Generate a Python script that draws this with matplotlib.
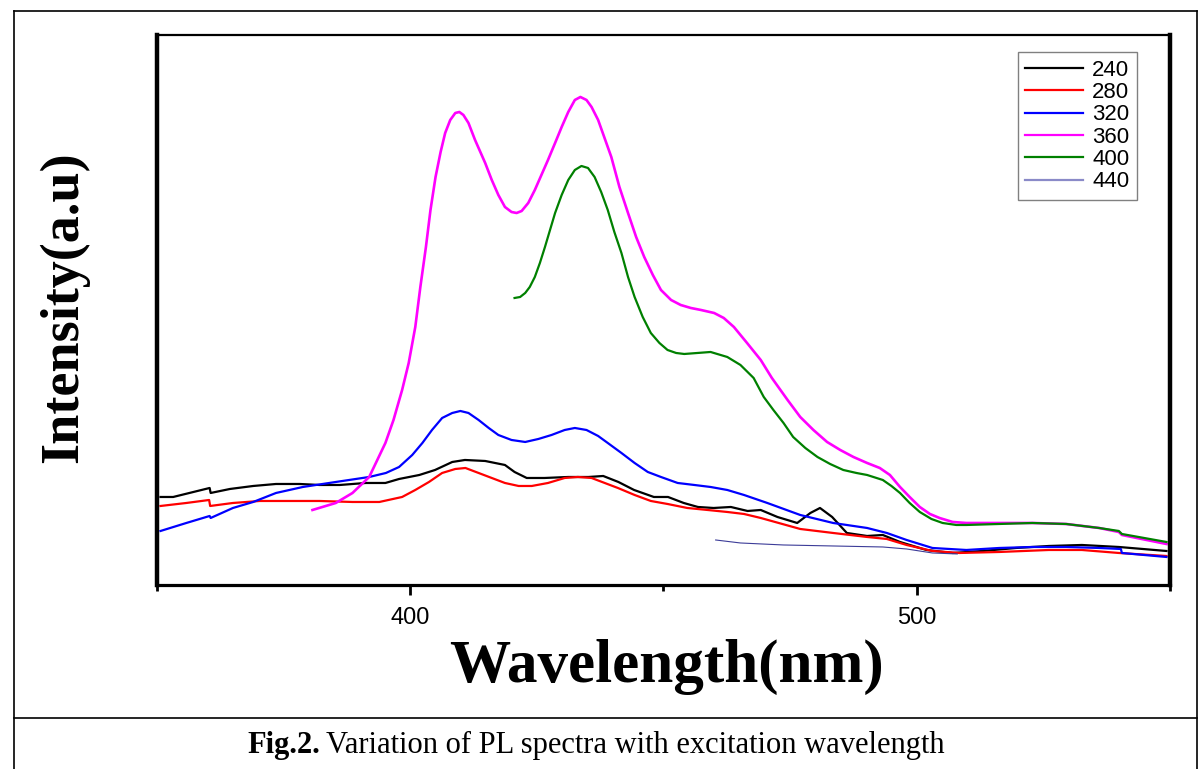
import matplotlib

matplotlib.use("Agg")
import matplotlib.pyplot as plt
from matplotlib.lines import Line2D

# PL emission spectra (a.u.) for each excitation wavelength (nm)
wl_240 = [350.7, 353.2, 357.2, 360.4, 360.6, 364.4, 369.0, 373.5, 378.2, 382.1, 386.1, 391.2,
          395.1, 397.8, 401.8, 404.9, 408.3, 410.8, 414.8, 418.7, 420.6, 423.0, 426.5, 431.2,
          435.2, 438.1, 441.1, 444.2, 448.1, 450.9, 454.0, 456.8, 459.9, 463.3, 466.6, 469.2,
          472.5, 476.4, 479.0, 480.9, 483.3, 486.2, 490.2, 493.3, 496.7, 501.9, 507.1, 513.0,
          519.6, 526.1, 532.6, 539.9, 549.3]
int_240 = [88, 88, 93, 97, 92, 96, 99, 101, 101, 100, 100, 102,
           102, 106, 110, 115, 123, 125, 124, 120, 113, 107, 107, 108,
           108, 109, 103, 95, 88, 88, 82, 78, 77, 78, 74, 75,
           68, 62, 72, 77, 68, 52, 49, 50, 43, 35, 32, 34,
           37, 39, 40, 38, 34]

wl_280 = [350.7, 355.8, 360.3, 360.5, 365.0, 370.3, 375.4, 382.1, 388.6, 393.9, 398.4, 401.0,
          403.7, 406.3, 408.9, 410.9, 413.5, 416.1, 418.7, 421.4, 424.0, 427.2, 430.5, 433.1,
          435.8, 438.4, 441.0, 444.3, 447.5, 450.8, 454.7, 458.7, 462.6, 465.9, 469.2, 477.0,
          483.5, 490.2, 494.1, 498.0, 503.1, 508.4, 516.3, 526.1, 532.6, 539.9, 549.3]
int_280 = [79, 82, 85, 79, 82, 84, 84, 84, 83, 83, 88, 95,
           103, 112, 116, 117, 112, 107, 102, 99, 99, 102, 107, 108,
           107, 102, 97, 90, 84, 81, 77, 75, 73, 71, 67, 56,
           52, 48, 46, 40, 34, 32, 33, 35, 35, 32, 29]

wl_320 = [350.7, 355.8, 360.4, 360.6, 365.0, 369.0, 373.5, 378.8, 385.3, 391.9, 395.2, 397.8,
          400.4, 402.4, 404.3, 406.3, 408.3, 409.9, 411.5, 413.5, 415.5, 417.4, 420.0, 422.7,
          425.3, 427.9, 430.5, 432.5, 434.8, 437.1, 439.0, 441.7, 444.3, 446.9, 449.5, 452.8,
          456.1, 459.3, 462.6, 465.9, 470.5, 477.0, 483.5, 490.2, 494.1, 498.0, 503.1, 509.8,
          516.3, 522.8, 529.5, 536.0, 540.3, 540.5, 549.3]
int_320 = [54, 62, 69, 67, 77, 83, 92, 98, 103, 108, 112, 118,
           130, 142, 155, 167, 172, 174, 172, 165, 157, 150, 145, 143,
           146, 150, 155, 157, 155, 149, 142, 132, 122, 113, 108, 102,
           100, 98, 95, 90, 82, 70, 62, 57, 52, 45, 37, 35,
           37, 38, 38, 37, 36, 32, 28]

wl_360 = [380.7, 385.3, 388.6, 391.9, 395.1, 396.7, 398.4, 399.7, 401.0, 402.0, 403.1, 404.0,
          405.0, 406.0, 406.9, 407.9,
          408.9, 409.7, 410.5, 411.5, 412.8, 414.8, 416.1, 417.4, 418.7, 420.0, 421.0, 422.0,
          423.3, 424.6, 425.9, 427.2, 428.6, 429.9, 431.2, 432.5, 433.6, 434.8, 435.8, 437.1,
          439.7, 441.3, 443.0, 444.6, 446.2, 447.9, 449.5, 451.5, 453.4, 455.4, 457.4, 460.0,
          461.9, 463.9, 466.5, 469.2, 471.4, 474.5, 477.0, 479.6, 482.3, 484.9, 487.5, 490.2,
          492.7, 494.7, 496.7, 498.6, 500.6, 502.6, 504.5, 507.1, 509.8, 516.3, 522.8, 529.5,
          536.0, 539.9, 540.5, 549.3]
int_360 = [75, 82, 92, 108, 142, 165, 195, 222, 258, 298, 338, 375,
           408, 433, 452, 465,
           472, 473, 470, 462, 445, 422, 405, 390, 378, 373, 372, 374,
           382, 395, 410, 425, 442, 458, 473, 485, 488, 485, 478, 465,
           428, 398, 372, 348, 328, 310, 295, 285, 280, 277, 275, 272,
           267, 258, 242, 225, 207, 185, 168, 155, 143, 135, 128, 122,
           117, 110, 98, 88, 78, 71, 67, 63, 62, 62, 62, 61,
           57, 53, 50, 41]

wl_400 = [420.6, 421.7, 422.7, 423.6, 424.6, 425.6, 426.6, 427.6, 428.6, 429.9, 431.2, 432.5,
          433.8, 435.1, 436.4, 437.7, 439.0, 440.3, 441.7, 443.0, 444.3, 445.9, 447.5, 449.2,
          450.8, 452.5, 454.1, 456.7, 459.3, 462.6, 465.2, 467.8, 469.8, 471.7, 473.7, 475.6,
          478.0, 480.4, 482.9, 485.5, 488.1, 490.2, 493.3, 495.0, 496.7, 498.6, 500.6, 502.9,
          505.1, 507.8, 509.8, 516.3, 522.8, 529.5, 536.0, 539.9, 540.5, 549.3]
int_400 = [287, 288, 292, 298, 308, 322, 338, 355, 372, 390, 405, 415,
           419, 417, 408, 393, 375, 353, 332, 308, 288, 268, 252, 242,
           235, 232, 231, 232, 233, 228, 220, 207, 188, 175, 162, 148,
           137, 128, 121, 115, 112, 110, 105, 99, 92, 82, 73, 66,
           62, 60, 60, 61, 62, 61, 57, 54, 51, 43]

wl_440 = [460.3, 465.2, 473.7, 483.5, 493.3, 498.0, 503.1, 508.0]
int_440 = [45, 42, 40, 39, 38, 36, 32, 31]

series = [
    ("240", wl_240, int_240, "black", 1.6),
    ("280", wl_280, int_280, "#ff0000", 1.6),
    ("320", wl_320, int_320, "#0000ff", 1.6),
    ("360", wl_360, int_360, "#ff00ff", 1.9),
    ("400", wl_400, int_400, "#008000", 1.6),
    ("440", wl_440, int_440, "#3c3c98", 0.8),
]

fig = plt.figure(figsize=(12, 7.69), dpi=100)
ax = fig.add_axes([0.1308, 0.2393, 0.8442, 0.7152])

for name, x, y, color, lw in series:
    ax.plot(x, y, color=color, linewidth=lw, label=name, solid_joinstyle="round")

ax.set_xlim(350, 550)
ax.set_ylim(0, 550)
ax.set_xticks([400, 500])
ax.set_xticks([350, 450, 550], minor=True)
ax.set_yticks([])
ax.tick_params(axis="x", which="major", direction="out", length=7.5, width=2, pad=8,
               labelsize=17)
ax.tick_params(axis="x", which="minor", direction="out", length=4, width=2)
for lab in ax.get_xticklabels():
    lab.set_family(["Liberation Sans Narrow", "Liberation Sans"])

ax.spines["left"].set_linewidth(3.2)
ax.spines["right"].set_linewidth(3.2)
ax.spines["bottom"].set_linewidth(2.3)
ax.spines["top"].set_linewidth(1.6)

handles = [Line2D([], [], color=c, linewidth=1.6) for _, _, _, c, _ in series[:-1]]
handles.append(Line2D([], [], color="#8a8ac8", linewidth=1.6))
leg = ax.legend(handles, [s[0] for s in series], loc="upper right",
                bbox_to_anchor=(0.9674, 0.969), borderaxespad=0, fancybox=False,
                framealpha=1, edgecolor="#808080", handlelength=2.6, handletextpad=0.4,
                labelspacing=0.06, borderpad=0.35,
                prop={"family": "Liberation Sans", "size": 16})
leg.get_frame().set_linewidth(1.0)

fig.text(666 / 1200, 1 - 667 / 769, "Wavelength(nm)", ha="center", va="center",
         family="Liberation Serif", weight="bold", fontsize=44)
fig.text(64 / 1200, 1 - 307 / 769, "Intensity(a.u)", ha="center", va="center",
         rotation=90, family="Liberation Serif", weight="bold", fontsize=39)

# page frame around the figure and the caption row
frame = dict(color="black", linewidth=1.2, transform=fig.transFigure)
fig.add_artist(Line2D([14 / 1200, 14 / 1200], [0, 1 - 11 / 769], **frame))
fig.add_artist(Line2D([1197 / 1200, 1197 / 1200], [0, 1 - 11 / 769], **frame))
fig.add_artist(Line2D([14 / 1200, 1197 / 1200], [1 - 11 / 769, 1 - 11 / 769], **frame))
fig.add_artist(Line2D([14 / 1200, 1197 / 1200], [1 - 718 / 769, 1 - 718 / 769], **frame))

cap_y = 1 - 745 / 769
bold = fig.text(247 / 1200, cap_y, "Fig.2.", ha="left", va="center",
                family="Liberation Serif", weight="bold", fontsize=22)
fig.canvas.draw()
ext = bold.get_window_extent()
fig.text((ext.x1 + 6) / 1200, cap_y, "Variation of PL spectra with excitation wavelength",
         ha="left", va="center", family="Liberation Serif", fontsize=22)

fig.savefig("out.png", dpi=100)
